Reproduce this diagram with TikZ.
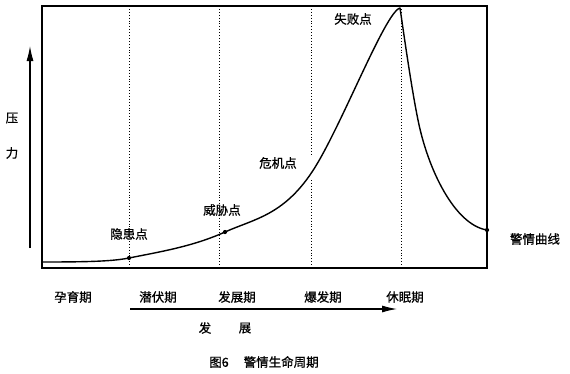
\documentclass[tikz,border=0pt]{standalone}
\usepackage{fontspec}
\setmainfont{Noto Sans CJK SC}
\newfontfamily\lblfont{Noto Sans CJK SC}[FakeBold=0.8]
\usetikzlibrary{arrows.meta}

\begin{document}
\begin{tikzpicture}[x=1pt, y=-1pt,
  frame/.style={draw=black, line width=1.2pt},
  phase/.style={draw=black, line width=0.9pt, dotted},
  curve/.style={draw=black, line width=1.4pt, line join=round},
  axisarrow/.style={draw=black, line width=1.1pt, -{Latex[length=15pt,width=7pt]}},
  lbl/.style={font=\lblfont\fontsize{12.5}{14}\selectfont, inner sep=1pt},
]
  \useasboundingbox (0,0) rectangle (570,373);
  % frame and phase borders
  \draw[frame] (42,6) rectangle (487,268);
  \foreach \x in {129,219,311,401} {
    \draw[phase] (\x,6) -- (\x,268);
  }
  \fill[white] (307,157) rectangle (315,180);
  % key points on the curve
  \coordinate (start) at (42,262);
  \coordinate (hidden) at (129,258);
  \coordinate (threat) at (225,232);
  \coordinate (crisis) at (312,172);
  \coordinate (failure) at (400,8);
  \coordinate (fall) at (418,120);
  \coordinate (dormant) at (487,230);
  % alarm curve
  \draw[curve] (start) .. controls (90,262) and (113,261.2) .. (hidden)
    .. controls (161,251.6) and (193,246.4) .. (threat)
    .. controls (254,219) and (283,215.5) .. (crisis)
    .. controls (340,130) and (385,12) .. (failure)
    .. controls (403,28) and (411,86) .. (fall)
    .. controls (428,170) and (455,225) .. (dormant);
  \fill (hidden) circle (2.1pt);
  \fill (threat) circle (2.1pt);
  \fill (dormant) circle (2.1pt);
  \node[lbl, fill=white] (hiddenlbl) at (129,234) {隐患点};
  \node[lbl] (threatlbl) at (222,210) {威胁点};
  \node[lbl] (crisislbl) at (278,163) {危机点};
  \node[lbl] (failurelbl) at (353,19) {失败点};
  \node[lbl] (curvelbl) at (535,239) {警情曲线};
  % pressure axis
  \coordinate (ybot) at (30,248);
  \coordinate (ytop) at (30,46);
  \draw[axisarrow] (ybot) -- (ytop);
  \node[lbl] (ya) at (12,118) {压};
  \node[lbl] (yb) at (12,153) {力};
  % phases
  \node[lbl] (ph1) at (73,297) {孕育期};
  \node[lbl] (ph2) at (158,297) {潜伏期};
  \node[lbl] (ph3) at (237,297) {发展期};
  \node[lbl] (ph4) at (323,297) {爆发期};
  \node[lbl] (ph5) at (405,297) {休眠期};
  % development axis
  \coordinate (xstart) at (130,309);
  \coordinate (xend) at (397,309);
  \draw[axisarrow] (xstart) -- (xend);
  \node[lbl] (xa) at (205,328) {发};
  \node[lbl] (xb) at (245,328) {展};
  \node[lbl] (caption) at (264,362) {图6\hspace{1.2em}警情生命周期};
\end{tikzpicture}
\end{document}
